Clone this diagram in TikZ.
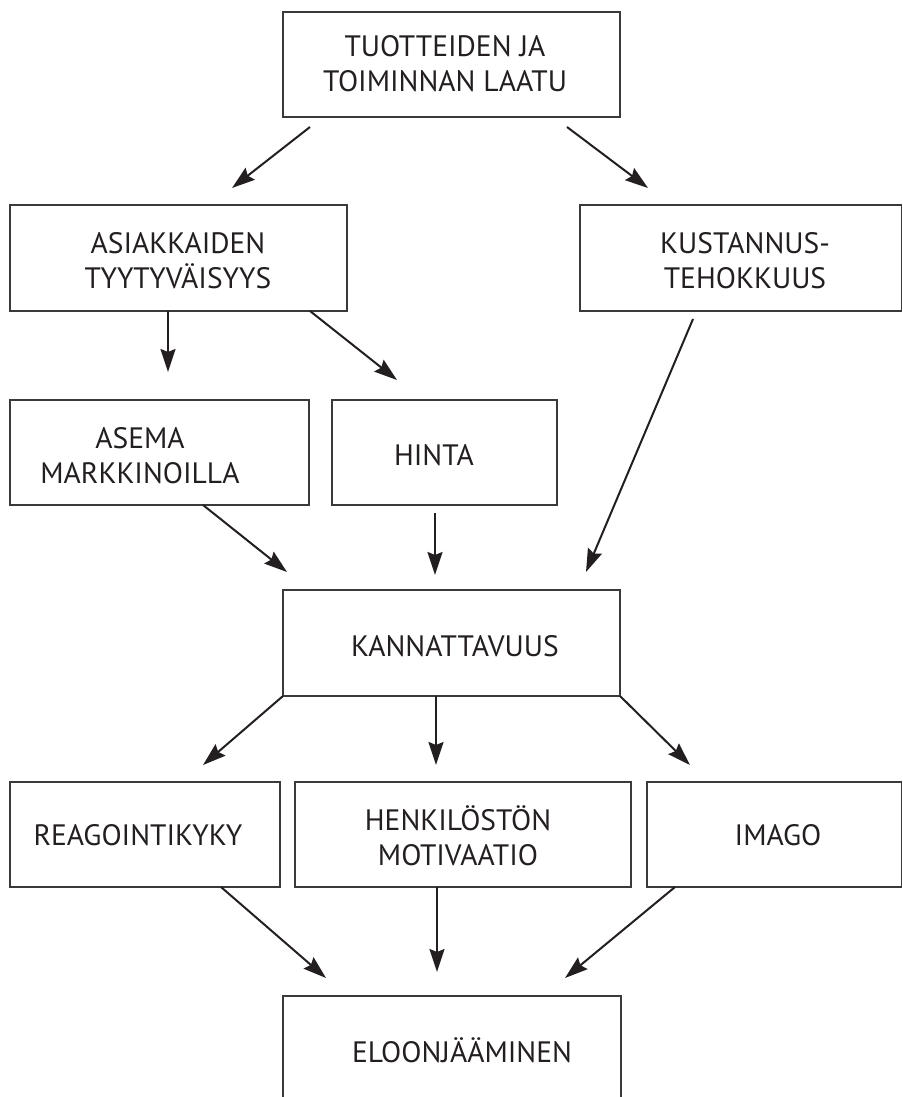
\documentclass[tikz,border=0pt]{standalone}
\usepackage{fontspec}
\setmainfont{PT Sans}
\usetikzlibrary{arrows.meta}
\definecolor{boxline}{HTML}{3A3A3A}
\definecolor{ink}{HTML}{231F20}
\tikzset{
  box/.style={draw=boxline, line width=1.2pt, inner sep=0pt, outer sep=0pt, rectangle},
  txt/.style={align=center, inner sep=0pt, text=ink, font=\fontsize{29.5}{35}\selectfont},
  arr/.style={draw=ink, line width=2pt, -{Stealth[length=23pt,width=15pt,inset=3pt]}}
}
\begin{document}
\begin{tikzpicture}[x=1pt,y=-1pt]
\useasboundingbox (0,0) rectangle (902,1097);
\clip (0,0) rectangle (902,1097);
% boxes
\node[box, minimum width=337pt, minimum height=105pt] (laatu) at (451.5,64.5) {};
\node[box, minimum width=337pt, minimum height=106pt] (asiak) at (178.5,258) {};
\node[box, minimum width=321.5pt, minimum height=106pt] (kust) at (740.75,258) {};
\node[box, minimum width=299pt, minimum height=105pt] (asema) at (159.5,452.5) {};
\node[box, minimum width=225pt, minimum height=105pt] (hinta) at (444.5,452.5) {};
\node[box, minimum width=337pt, minimum height=106pt] (kann) at (451.5,643) {};
\node[box, minimum width=270pt, minimum height=105pt] (reag) at (145,834.5) {};
\node[box, minimum width=336pt, minimum height=105pt] (henk) at (463,834.5) {};
\node[box, minimum width=254.5pt, minimum height=105pt] (imago) at (774.25,834.5) {};
\node[box, minimum width=338pt, minimum height=144pt] (eloon) at (452,1068) {};
% texts
\node[txt] (laatuT) at (445,64) {TUOTTEIDEN JA\\TOIMINNAN LAATU};
\node[txt] (asiakT) at (178,261) {ASIAKKAIDEN\\TYYTYVÄISYYS};
\node[txt] (kustT) at (745,261) {KUSTANNUS-\\TEHOKKUUS};
\node[txt] (asemaT) at (140,456) {ASEMA\\MARKKINOILLA};
\node[txt] (hintaT) at (434,455) {HINTA};
\node[txt] (kannT) at (455,646) {KANNATTAVUUS};
\node[txt] (reagT) at (138,835) {REAGOINTIKYKY};
\node[txt] (henkT) at (458,836) {HENKILÖSTÖN\\MOTIVAATIO};
\node[txt] (imagoT) at (778,835) {IMAGO};
\node[txt] (eloonT) at (462,1050) {ELOONJÄÄMINEN};
% connectors
\draw[arr] ([shift={(27,10)}]laatu.south west) -- ([shift={(222,-17)}]asiak.north west);
\draw[arr] ([shift={(284,10)}]laatu.south west) -- ([shift={(68,-17)}]kust.north west);
\draw[arr] ([shift={(158,0)}]asiak.south west) -- ([shift={(158,-28)}]asema.north west);
\draw[arr] ([shift={(300,0)}]asiak.south west) -- ([shift={(65,-20)}]hinta.north west);
\draw[arr] ([shift={(113,8)}]kust.south west) -- ([shift={(303,-18)}]kann.north west);
\draw[arr] ([shift={(193,0)}]asema.south west) -- ([shift={(4,-18)}]kann.north west);
\draw[arr] ([shift={(103,8)}]hinta.south west) -- ([shift={(152,-15)}]kann.north west);
\draw[arr] (kann.south west) -- ([shift={(193,-17)}]reag.north west);
\draw[arr] ([shift={(153,0)}]kann.south west) -- ([shift={(141,-17)}]henk.north west);
\draw[arr] (kann.south east) -- ([shift={(43,-17)}]imago.north west);
\draw[arr] ([shift={(211,0)}]reag.south west) -- ([shift={(43,-18)}]eloon.north west);
\draw[arr] ([shift={(142,0)}]henk.south west) -- ([shift={(154,-24)}]eloon.north west);
\draw[arr] ([shift={(28,0)}]imago.south west) -- ([shift={(282,-18)}]eloon.north west);
\end{tikzpicture}
\end{document}
